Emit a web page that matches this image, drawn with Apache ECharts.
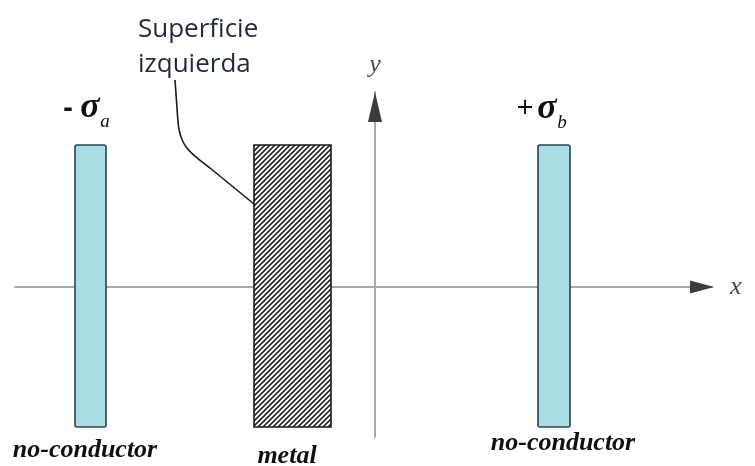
<!DOCTYPE html>
<html><head><meta charset="utf-8">
<script src="https://cdn.jsdelivr.net/npm/echarts@6/dist/echarts.min.js"></script>
<style>html,body{margin:0;padding:0;background:#fff}#c{width:755px;height:466px}</style>
</head><body><div id="c"></div>
<script>
// Diagram units: 1 unit = 1 px, origin where the x and y axes cross
const axisNames = ['x', 'y'];
const xRange = [-360, 337];
const yRange = [-150, 195];

const plateNames = ['no-conductor', 'metal', 'no-conductor'];
const plateKinds = ['dielectric', 'metal', 'dielectric'];
const plateLeft = [-300, -121, 163];
const plateRight = [-269, -44, 195];
const plateTop = [142, 142, 142];
const plateBottom = [-140, -140, -140];
const plateLabelX = [-290, -88, 188];
const plateLabelY = [-163, -169, -156];

const chargeSigns = ['-', '+'];
const chargeSymbols = ['σ', 'σ'];
const chargeSubs = ['a', 'b'];
const chargeX = [-285, 172];
const chargeY = [177, 176];

const calloutLines = ['Superficie', 'izquierda'];
const calloutX = [-237, -237];
const calloutY = [257, 222];
// leader: start, straight end, bezier ctrl1, ctrl2, bezier end, final point on metal surface
const leaderPoints = [[-200, 207], [-197, 165], [-195, 139], [-183, 133], [-165, 119], [-121, 83]];

// hatch pattern (diagonal "/" stripes)
const T = 5;
const hatch = document.createElement('canvas');
hatch.width = T; hatch.height = T;
(function () {
  const c = hatch.getContext('2d');
  c.fillStyle = '#ffffff'; c.fillRect(0, 0, T, T);
  c.strokeStyle = '#262626'; c.lineWidth = 1.6;
  c.beginPath();
  c.moveTo(-1, T + 1); c.lineTo(T + 1, -1);
  c.moveTo(-2, 2); c.lineTo(2, -2);
  c.moveTo(T - 2, T + 2); c.lineTo(T + 2, T - 2);
  c.stroke();
})();

const chart = echarts.init(document.getElementById('c'), null, { renderer: 'canvas' });

const axisStyle = { show: true, onZero: true, lineStyle: { color: '#a8a8a8', width: 2 } };
const nameStyle = { fontFamily: 'Liberation Serif', fontStyle: 'italic', fontSize: 26, color: '#4a4a4a' };

chart.setOption({
  animation: false,
  backgroundColor: '#ffffff',
  grid: { left: 15, right: 43, top: 92, bottom: 29 },
  xAxis: {
    type: 'value', min: xRange[0], max: xRange[1],
    name: axisNames[0], nameLocation: 'end', nameGap: 18, nameTextStyle: nameStyle,
    axisLine: axisStyle, axisTick: { show: false }, axisLabel: { show: false }, splitLine: { show: false }
  },
  yAxis: {
    type: 'value', min: yRange[0], max: yRange[1],
    name: axisNames[1], nameLocation: 'end', nameGap: 14, nameTextStyle: nameStyle,
    axisLine: axisStyle, axisTick: { show: false }, axisLabel: { show: false }, splitLine: { show: false }
  },
  series: [
    {
      // arrowheads on the axes
      type: 'custom', z: 3,
      data: [[xRange[1] + 2, 0], [0, yRange[1]]],
      encode: { x: 0, y: 1 },
      renderItem: function (params, api) {
        const i = params.dataIndex;
        const tipV = [api.value(0), api.value(1)];
        let pts;
        if (i === 0) {
          pts = [tipV, [tipV[0] - 24, 6.5], [tipV[0] - 24, -6.5]];
        } else {
          pts = [tipV, [7, tipV[1] - 30], [-7, tipV[1] - 30]];
        }
        return { type: 'polygon', shape: { points: pts.map(function (p) { return api.coord(p); }) },
          style: { fill: '#3c3c3c' } };
      }
    },
    {
      // plates and metal slab
      type: 'custom', z: 4,
      data: plateNames.map(function (n, i) { return [plateLeft[i], plateRight[i], plateTop[i], plateBottom[i]]; }),
      encode: { x: [0, 1], y: [2, 3] },
      renderItem: function (params, api) {
        const i = params.dataIndex;
        const p0 = api.coord([api.value(0), api.value(2)]);
        const p1 = api.coord([api.value(1), api.value(3)]);
        const isMetal = plateKinds[i] === 'metal';
        const lp = api.coord([plateLabelX[i], plateLabelY[i]]);
        return { type: 'group', children: [
          { type: 'rect', shape: { x: p0[0], y: p0[1], width: p1[0] - p0[0], height: p1[1] - p0[1], r: isMetal ? 0 : 2 },
            style: { fill: isMetal ? { image: hatch, repeat: 'repeat' } : '#a8dee3',
              stroke: isMetal ? '#1a1a1a' : '#2c4446', lineWidth: 1.6 } },
          { type: 'text', x: lp[0], y: lp[1],
            style: { text: plateNames[i], font: 'italic bold 26px "Liberation Serif"', fill: '#111',
              align: 'center', verticalAlign: 'middle' } }
        ] };
      }
    },
    {
      // surface charge labels
      type: 'custom', z: 4,
      data: chargeSymbols.map(function (s, i) { return [chargeX[i], chargeY[i]]; }),
      encode: { x: 0, y: 1 },
      renderItem: function (params, api) {
        const i = params.dataIndex;
        const c = api.coord([api.value(0), api.value(1)]);
        const signFont = i === 0 ? 'bold 28px "Open Sans"' : '30px "Open Sans"';
        return { type: 'group', children: [
          { type: 'text', x: c[0] - 22, y: c[1] - (i === 0 ? 1 : 3),
            style: { text: chargeSigns[i], font: signFont, fill: '#111', align: 'center', verticalAlign: 'middle' } },
          { type: 'text', x: c[0], y: c[1] - 2,
            style: { text: chargeSymbols[i], font: 'italic bold 36px "Liberation Serif"', fill: '#111', align: 'center', verticalAlign: 'middle' } },
          { type: 'text', x: c[0] + 15, y: c[1] + 12,
            style: { text: chargeSubs[i], font: 'italic 19px "Liberation Serif"', fill: '#111', align: 'center', verticalAlign: 'middle' } }
        ] };
      }
    },
    {
      // callout text
      type: 'custom', z: 4,
      data: calloutLines.map(function (s, i) { return [calloutX[i], calloutY[i]]; }),
      encode: { x: 0, y: 1 },
      renderItem: function (params, api) {
        const i = params.dataIndex;
        const c = api.coord([api.value(0), api.value(1)]);
        return { type: 'text', x: c[0], y: c[1],
          style: { text: calloutLines[i], font: '26px "Open Sans"', fill: '#1f2a3c', align: 'left', verticalAlign: 'middle' } };
      }
    },
    {
      // leader line
      type: 'custom', z: 4,
      data: [leaderPoints[0]],
      encode: { x: 0, y: 1 },
      renderItem: function (params, api) {
        const P = leaderPoints.map(function (p) { return api.coord(p); });
        const ls = { stroke: '#1a1a1a', lineWidth: 1.6, fill: null };
        return { type: 'group', children: [
          { type: 'line', shape: { x1: P[0][0], y1: P[0][1], x2: P[1][0], y2: P[1][1] }, style: ls },
          { type: 'bezierCurve', shape: { x1: P[1][0], y1: P[1][1], cpx1: P[2][0], cpy1: P[2][1], cpx2: P[3][0], cpy2: P[3][1], x2: P[4][0], y2: P[4][1] }, style: ls },
          { type: 'line', shape: { x1: P[4][0], y1: P[4][1], x2: P[5][0], y2: P[5][1] }, style: ls }
        ] };
      }
    }
  ]
});
</script></body></html>
